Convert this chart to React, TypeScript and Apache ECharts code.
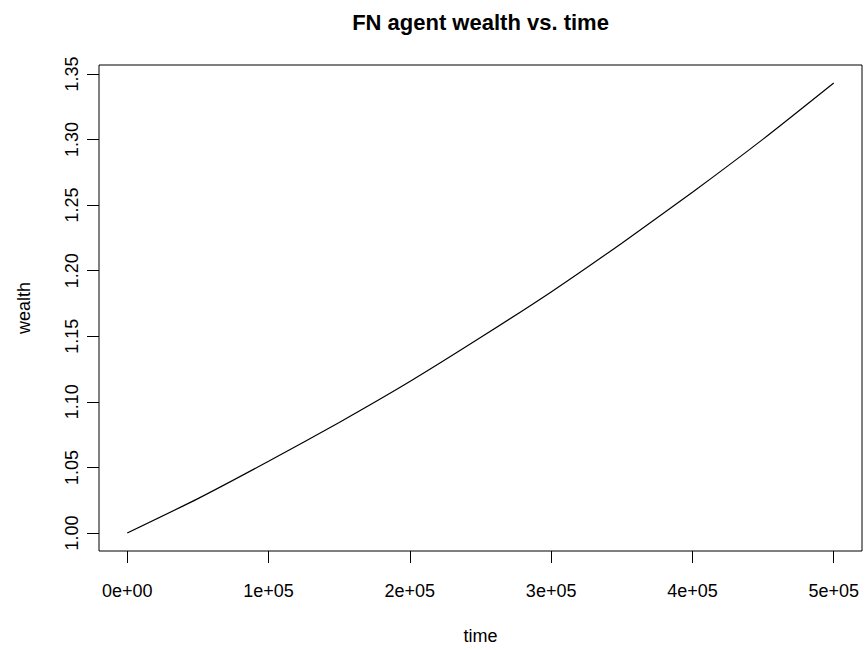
import React, { useEffect, useRef } from "react";
import * as echarts from "echarts";

const timeValues = [0, 50000, 100000, 150000, 200000, 250000, 300000, 350000, 400000, 450000, 500000];
const wealthValues = [1.0, 1.0262, 1.0547, 1.0843, 1.1155, 1.149, 1.1838, 1.221, 1.2598, 1.3003, 1.3431];
const xTickValues = [0, 100000, 200000, 300000, 400000, 500000];
const xTickLabels = ["0e+00", "1e+05", "2e+05", "3e+05", "4e+05", "5e+05"];
const yTickValues = [1.0, 1.05, 1.1, 1.15, 1.2, 1.25, 1.3, 1.35];
const yTickLabels = ["1.00", "1.05", "1.10", "1.15", "1.20", "1.25", "1.30", "1.35"];

const FONT = "'Liberation Sans', Arial, Helvetica, sans-serif";

export default function App() {
  const ref = useRef<HTMLDivElement>(null);
  useEffect(() => {
    if (!ref.current) return;
    const chart = echarts.init(ref.current, null, { renderer: "svg" });
    const xMin = Math.min(...timeValues);
    const xMax = Math.max(...timeValues);
    const yMin = Math.min(...wealthValues);
    const yMax = Math.max(...wealthValues);
    const xPad = (xMax - xMin) * 0.04;
    const yPad = (yMax - yMin) * 0.04;
    chart.setOption({
      animation: false,
      backgroundColor: "#ffffff",
      textStyle: { fontFamily: FONT, color: "#000" },
      grid: {
        left: 99,
        right: 3,
        top: 65,
        bottom: 99,
        show: true,
        borderColor: "#000",
        borderWidth: 1,
        backgroundColor: "transparent",
      },
      graphic: [
        {
          type: "text",
          x: 480.5,
          y: 22,
          style: {
            text: "FN agent wealth vs. time",
            fontFamily: FONT,
            fontWeight: "bold",
            fontSize: 22,
            fill: "#000",
            textAlign: "center",
            textVerticalAlign: "middle",
          },
        },
      ],
      xAxis: {
        type: "value",
        min: xMin - xPad,
        max: xMax + xPad,
        name: "time",
        nameLocation: "middle",
        nameGap: 76,
        nameTextStyle: { fontFamily: FONT, fontSize: 18, color: "#000" },
        axisLine: { show: false, onZero: false },
        splitLine: { show: false },
        axisTick: {
          show: true,
          length: 12,
          customValues: xTickValues,
          lineStyle: { color: "#000", width: 1 },
        },
        axisLabel: {
          customValues: xTickValues,
          margin: 31,
          fontFamily: FONT,
          fontSize: 18,
          color: "#000",
          formatter: (v: number) => {
            const i = xTickValues.indexOf(v);
            return i >= 0 ? xTickLabels[i] : "";
          },
        },
      },
      yAxis: {
        type: "value",
        min: yMin - yPad,
        max: yMax + yPad,
        name: "wealth",
        nameLocation: "middle",
        nameGap: 66,
        nameTextStyle: { fontFamily: FONT, fontSize: 18, color: "#000" },
        axisLine: { show: false, onZero: false },
        splitLine: { show: false },
        axisTick: {
          show: true,
          length: 12,
          customValues: yTickValues,
          lineStyle: { color: "#000", width: 1 },
        },
        axisLabel: {
          customValues: yTickValues,
          rotate: 90,
          margin: 18,
          fontFamily: FONT,
          fontSize: 18,
          color: "#000",
          formatter: (v: number) => {
            const i = yTickValues.findIndex((t) => Math.abs(t - v) < 1e-9);
            return i >= 0 ? yTickLabels[i] : "";
          },
        },
      },
      series: [
        {
          type: "line",
          data: timeValues.map((t, i) => [t, wealthValues[i]]),
          showSymbol: false,
          symbol: "none",
          smooth: 0.2,
          lineStyle: { color: "#000", width: 1.2 },
        },
      ],
    });
    return () => chart.dispose();
  }, []);
  return (
    <div
      ref={ref}
      style={{ position: "fixed", left: 0, top: 0, width: 865, height: 650, background: "#fff" }}
    />
  );
}
